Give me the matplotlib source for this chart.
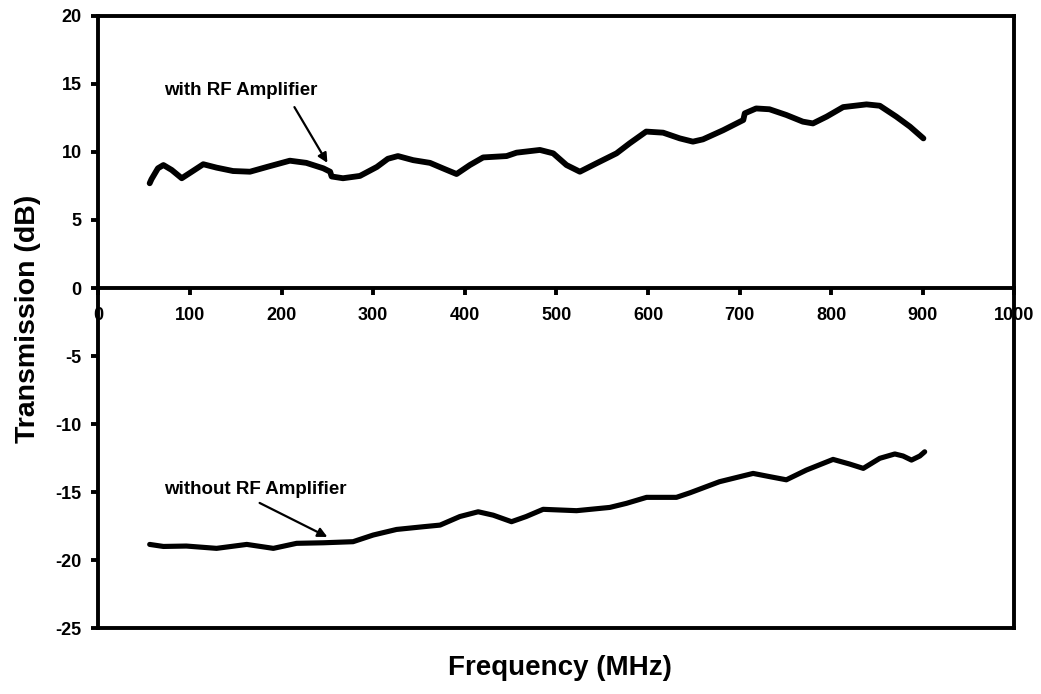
import matplotlib.pyplot as plt

# transmission vs frequency
freq_with = [56, 58, 65, 71, 80, 91, 102, 114.5, 129, 147, 165.5, 184, 209, 227,
             245.5, 253, 254.6, 267, 285.5, 304, 316, 327, 343.6, 362, 376, 391,
             405.5, 420, 445.6, 456.5, 482, 496.5, 511, 525.6, 543.8, 565.6, 580,
             598, 616.5, 634.7, 649, 660, 682, 704, 705.6, 718, 732.6, 751, 769,
             780, 795, 813, 838.5, 853, 871, 886, 900.6]
db_with = [7.7, 8.0, 8.8, 9.04, 8.68, 8.07, 8.55, 9.1, 8.85, 8.6, 8.55, 8.9, 9.36, 9.2,
           8.8, 8.55, 8.2, 8.07, 8.24, 8.9, 9.5, 9.7, 9.4, 9.2, 8.8, 8.38,
           9.04, 9.6, 9.7, 9.95, 10.15, 9.9, 9.04, 8.55, 9.17, 9.9, 10.64,
           11.5, 11.42, 11.0, 10.76, 10.93, 11.6, 12.35, 12.84, 13.2, 13.14, 12.72, 12.23,
           12.1, 12.6, 13.3, 13.5, 13.4, 12.6, 11.86, 11.0]

freq_without = [56, 71, 96, 129, 162, 191, 216.4, 245.5, 278, 300, 325.5, 354.6, 373,
                394.6, 414.6, 431, 451, 467, 485.5, 522, 558.3, 576.5, 598.4, 631,
                646, 678, 714.7, 733, 751, 773, 802, 820, 835, 853, 869.4, 878.4,
                887.6, 896.7, 902]
db_without = [-18.85, -19.0, -18.97, -19.14, -18.85, -19.14, -18.77, -18.73, -18.65,
              -18.16, -17.75, -17.55, -17.43, -16.8, -16.45, -16.7, -17.18, -16.8,
              -16.27, -16.37, -16.13, -15.83, -15.39, -15.39, -15.05, -14.24, -13.63,
              -13.87, -14.1, -13.38, -12.6, -12.94, -13.26, -12.52, -12.2, -12.35,
              -12.65, -12.35, -12.04]

x_ticks = list(range(0, 1001, 100))
y_ticks = list(range(-25, 21, 5))


def add_label(ax, text, text_xy, tail, head):
    ax.text(text_xy[0], text_xy[1], text, fontsize=13.5, fontweight='bold',
            va='center', ha='left')
    ax.annotate('', xy=head, xytext=tail,
                arrowprops=dict(arrowstyle='-|>', color='black', lw=1.6,
                                shrinkA=0, shrinkB=0, mutation_scale=14))


def main():
    plt.rcParams['font.family'] = ['Liberation Sans', 'DejaVu Sans']
    plt.rcParams['font.weight'] = 'bold'
    plt.rcParams['axes.unicode_minus'] = False
    fig = plt.figure(figsize=(10.41, 6.94), dpi=100)
    ax = fig.add_axes([0.0945, 0.095, 0.88, 0.882])

    ax.plot(freq_with, db_with, color='black', lw=4.2,
            solid_joinstyle='round', solid_capstyle='round')
    ax.plot(freq_without, db_without, color='black', lw=3.7,
            solid_joinstyle='round', solid_capstyle='round')

    ax.set_xlim(0, 1000)
    ax.set_ylim(-25, 20)
    ax.set_xticks(x_ticks)
    ax.set_yticks(y_ticks)

    # x axis sits on the zero line, frame still closed at the bottom
    ax.spines['bottom'].set_position(('data', 0))
    for s in ax.spines.values():
        s.set_linewidth(2.8)
    ax.axhline(-25, color='black', lw=2.8, clip_on=False)

    ax.tick_params(axis='both', direction='out', length=5, width=2.8,
                   labelsize=13)
    ax.tick_params(axis='x', pad=9)
    ax.tick_params(axis='y', pad=7)
    for lab in ax.get_xticklabels() + ax.get_yticklabels():
        lab.set_fontweight('bold')

    add_label(ax, 'with RF Amplifier', (72, 14.5), (214, 13.3), (250, 9.2))
    add_label(ax, 'without RF Amplifier', (72, -14.8), (176, -15.8), (250, -18.3))

    fig.text(0.538, 0.037, 'Frequency (MHz)', fontsize=20, fontweight='bold',
             ha='center', va='center')
    fig.text(0.027, 0.54, 'Transmission (dB)', fontsize=20.5, fontweight='bold',
             ha='center', va='center', rotation=90)

    fig.savefig('out.png', dpi=100)


if __name__ == "__main__":
    main()
